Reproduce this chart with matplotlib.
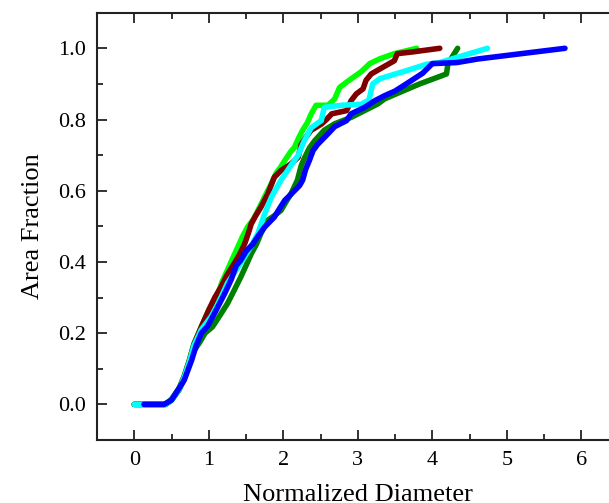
import matplotlib
matplotlib.use("Agg")
import matplotlib.pyplot as plt
from matplotlib.ticker import MultipleLocator

plt.rcParams['font.family'] = ['Liberation Serif', 'DejaVu Serif']

# Data
lime_x = [0, 0.42, 0.5, 0.6, 0.67, 0.74, 0.8, 0.9, 1.0, 1.12, 1.18, 1.25, 1.32, 1.39, 1.45, 1.52,
          1.6, 1.66, 1.72, 1.79, 1.84, 1.9, 1.96, 2.02, 2.1, 2.15, 2.21, 2.26, 2.32, 2.375, 2.44,
          2.6, 2.69, 2.755, 2.85, 2.95, 3.05, 3.16, 3.29, 3.49, 3.79]
lime_y = [0, 0, 0.015, 0.045, 0.08, 0.125, 0.17, 0.218, 0.265, 0.31, 0.345, 0.377, 0.41, 0.442, 0.47,
          0.498, 0.52, 0.545, 0.57, 0.6, 0.62, 0.648, 0.665, 0.685, 0.71, 0.722, 0.75, 0.77, 0.79,
          0.816, 0.84, 0.84, 0.858, 0.89, 0.905, 0.92, 0.935, 0.957, 0.97, 0.985, 1.0]

red_x = [0, 0.42, 0.5, 0.6, 0.67, 0.74, 0.8, 0.9, 1.0, 1.08, 1.165, 1.25, 1.34, 1.41, 1.48, 1.53,
         1.57, 1.63, 1.7, 1.79, 1.88, 1.97, 2.1, 2.2, 2.24, 2.3, 2.375, 2.51, 2.58, 2.65, 2.85,
         2.91, 2.98, 3.07, 3.11, 3.18, 3.33, 3.49, 3.53, 3.74, 4.1]
red_y = [0, 0, 0.013, 0.043, 0.078, 0.123, 0.168, 0.218, 0.265, 0.3, 0.33, 0.365, 0.395, 0.42, 0.45,
         0.48, 0.507, 0.53, 0.554, 0.59, 0.638, 0.657, 0.675, 0.694, 0.73, 0.75, 0.77, 0.787, 0.8,
         0.816, 0.825, 0.853, 0.872, 0.886, 0.91, 0.928, 0.946, 0.965, 0.985, 0.99, 1.0]

dgreen_x = [0, 0.42, 0.5, 0.6, 0.67, 0.74, 0.8, 0.88, 0.95, 1.05, 1.15, 1.25, 1.34, 1.43, 1.5,
            1.57, 1.64, 1.7, 1.79, 1.88, 1.97, 2.04, 2.1, 2.19, 2.24, 2.28, 2.35, 2.42, 2.55,
            2.69, 2.91, 3.09, 3.27, 3.36, 3.56, 3.83, 4.19, 4.21, 4.34]
dgreen_y = [0, 0, 0.012, 0.04, 0.072, 0.115, 0.15, 0.175, 0.2, 0.218, 0.25, 0.283, 0.32, 0.358, 0.39,
            0.423, 0.45, 0.48, 0.517, 0.53, 0.545, 0.57, 0.59, 0.63, 0.67, 0.69, 0.72, 0.74, 0.77,
            0.788, 0.806, 0.825, 0.844, 0.858, 0.876, 0.9, 0.928, 0.957, 1.0]

cyan_x = [0, 0.42, 0.5, 0.6, 0.67, 0.74, 0.8, 0.9, 1.03, 1.12, 1.25, 1.36, 1.48, 1.57, 1.66, 1.75,
          1.84, 1.97, 2.1, 2.2, 2.28, 2.375, 2.51, 2.55, 2.78, 3.05, 3.15, 3.2, 3.3, 3.65, 3.92,
          4.1, 4.74]
cyan_y = [0, 0, 0.012, 0.042, 0.076, 0.12, 0.165, 0.21, 0.246, 0.28, 0.34, 0.375, 0.414, 0.445, 0.48,
          0.535, 0.582, 0.63, 0.67, 0.7, 0.74, 0.777, 0.797, 0.834, 0.84, 0.843, 0.855, 0.9, 0.915,
          0.937, 0.955, 0.96, 1.0]

blue_x = [0.13, 0.4, 0.5, 0.67, 0.77, 0.83, 0.9, 0.985, 1.1, 1.21, 1.3, 1.37, 1.43, 1.5, 1.59,
          1.67, 1.75, 1.88, 1.95, 2.02, 2.15, 2.22, 2.26, 2.3, 2.35, 2.4, 2.46, 2.6, 2.69, 2.85,
          2.91, 3.09, 3.23, 3.36, 3.5, 3.65, 3.87, 4.0, 4.33, 4.61, 5.78]
blue_y = [0, 0, 0.012, 0.068, 0.124, 0.165, 0.2, 0.22, 0.265, 0.31, 0.35, 0.39, 0.405, 0.43, 0.45,
          0.475, 0.498, 0.526, 0.55, 0.573, 0.6, 0.615, 0.63, 0.66, 0.685, 0.713, 0.73, 0.76, 0.78,
          0.797, 0.816, 0.834, 0.853, 0.867, 0.88, 0.9, 0.93, 0.957, 0.96, 0.97, 1.0]

x_ticks = [0, 1, 2, 3, 4, 5, 6]
y_ticks = [0.0, 0.2, 0.4, 0.6, 0.8, 1.0]

fig = plt.figure(figsize=(6.09, 5.03), dpi=100)
ax = fig.add_axes([97/609, 63/503, 521.6/609, 427.3/503])

series = [(lime_x, lime_y, '#00FF00'), (red_x, red_y, '#800000'),
          (dgreen_x, dgreen_y, '#008000'), (cyan_x, cyan_y, '#00FFFF'),
          (blue_x, blue_y, '#0000FF')]
for xs, ys, c in series:
    ax.plot(xs, ys, color=c, lw=4.0, solid_capstyle='round', solid_joinstyle='round')

ax.set_xlim(-0.5, 6.5)
ax.set_ylim(-0.1, 1.1)
ax.set_xticks(x_ticks)
ax.set_yticks(y_ticks)
ax.set_xticklabels([str(v) for v in x_ticks])
ax.set_yticklabels([f"{v:.1f}" for v in y_ticks])
ax.xaxis.set_minor_locator(MultipleLocator(0.5))
ax.yaxis.set_minor_locator(MultipleLocator(0.1))
ax.tick_params(which='both', direction='in', top=True, right=True, width=1.3, color='#222222')
ax.tick_params(which='major', length=7, labelsize=16, pad=8)
ax.tick_params(which='minor', length=4)
for s in ax.spines.values():
    s.set_linewidth(1.5)
    s.set_color('#222222')

ax.set_xlabel('Normalized Diameter', fontsize=19, labelpad=10)
ax.set_ylabel('Area Fraction', fontsize=19, labelpad=10)

fig.savefig('out.png', dpi=100)
